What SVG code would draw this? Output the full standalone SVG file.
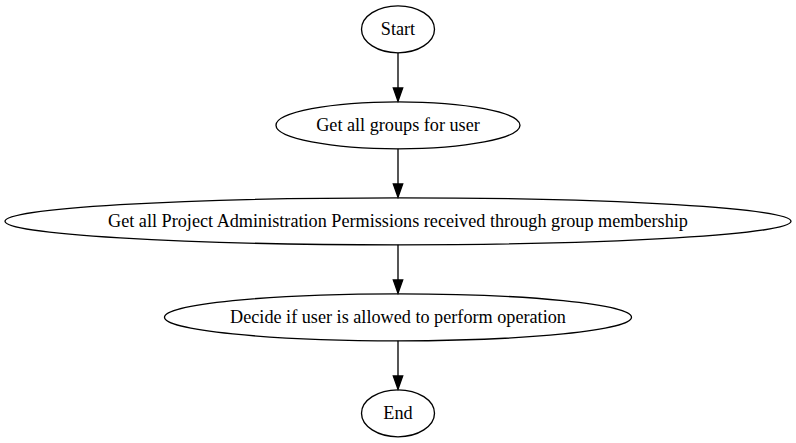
<svg xmlns="http://www.w3.org/2000/svg" width="796" height="443" viewBox="0 0 796 443">
<style>
.n ellipse{fill:none;stroke:#000;stroke-width:1.33}
.n text{font-family:"Liberation Serif","Times New Roman",serif;font-size:18.2px;text-anchor:middle;fill:#000}
.e line{stroke:#000;stroke-width:1.33}
.e polygon{fill:#000;stroke:#000;stroke-width:1.33}
</style>
<rect width="796" height="443" fill="#fff"/>
<g id="start" class="n"><ellipse cx="398" cy="29.3" rx="36.5" ry="23.5"/><text x="398" y="35">Start</text></g>
<g id="groups" class="n"><ellipse cx="398" cy="125.3" rx="122" ry="23.5"/><text x="398" y="131">Get all groups for user</text></g>
<g id="perms" class="n"><ellipse cx="398" cy="221.3" rx="393" ry="23.5"/><text x="398" y="227">Get all Project Administration Permissions received through group membership</text></g>
<g id="decide" class="n"><ellipse cx="398" cy="317.3" rx="233.5" ry="23.5"/><text x="398" y="323">Decide if user is allowed to perform operation</text></g>
<g id="end" class="n"><ellipse cx="398" cy="413.3" rx="36.5" ry="23.5"/><text x="398" y="419">End</text></g>
<g id="connectors" class="e">
<line x1="398" y1="52.8" x2="398" y2="88"/><polygon points="393.3,88 402.7,88 398,101.3"/>
<line x1="398" y1="148.8" x2="398" y2="184"/><polygon points="393.3,184 402.7,184 398,197.3"/>
<line x1="398" y1="244.8" x2="398" y2="280"/><polygon points="393.3,280 402.7,280 398,293.3"/>
<line x1="398" y1="340.8" x2="398" y2="376"/><polygon points="393.3,376 402.7,376 398,389.3"/>
</g>
</svg>
